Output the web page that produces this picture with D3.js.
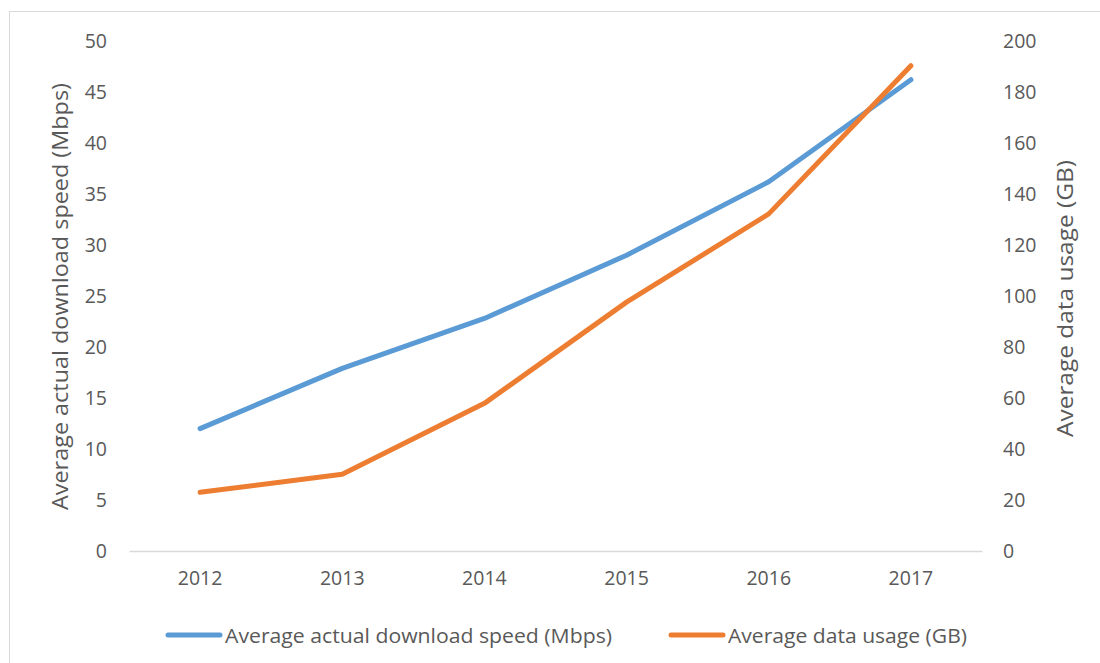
<!DOCTYPE html>
<html>
<head>
<meta charset="utf-8">
<script src="https://cdn.jsdelivr.net/npm/d3@7"></script>
<style>
  html, body { margin: 0; padding: 0; background: #fff; }
  svg { display: block; font-family: "Open Sans", "Noto Sans", sans-serif; }
</style>
</head>
<body>
<svg id="chart" width="1100" height="663"></svg>
<script>
// data
const years = ['2012', '2013', '2014', '2015', '2016', '2017'];
const speedMbps = [12.0, 17.9, 22.8, 29.0, 36.2, 46.2];
const usageGB = [23.0, 30.1, 57.9, 97.6, 132.2, 190.3];
const leftTicks = [0, 5, 10, 15, 20, 25, 30, 35, 40, 45, 50];
const rightTicks = [0, 20, 40, 60, 80, 100, 120, 140, 160, 180, 200];

const BLUE = '#5b9bd5';
const ORANGE = '#ed7d31';
const TEXT = '#595959';
const FONT = '"Open Sans", "Noto Sans", sans-serif';

const svg = d3.select('#chart');

// outer chart border (runs off right/bottom edge)
svg.append('rect')
  .attr('x', 9.5).attr('y', 11.5)
  .attr('width', 1200).attr('height', 800)
  .attr('fill', 'none')
  .attr('stroke', '#d9d9d9')
  .attr('stroke-width', 1);

const x = d3.scaleBand().domain(years).range([129, 982]);
const yL = d3.scaleLinear().domain([0, 50]).range([551, 41]);
const yR = d3.scaleLinear().domain([0, 200]).range([551, 41]);

function styleTicks(g) {
  g.selectAll('text')
    .attr('fill', TEXT)
    .attr('font-size', 19.5)
    .attr('font-family', FONT);
}

// left axis
const gL = svg.append('g').attr('transform', 'translate(129,0)')
  .call(d3.axisLeft(yL).tickValues(leftTicks).tickSize(0).tickPadding(22));
gL.select('.domain').remove();
styleTicks(gL);

// right axis
const gR = svg.append('g').attr('transform', 'translate(982,0)')
  .call(d3.axisRight(yR).tickValues(rightTicks).tickSize(0).tickPadding(21));
gR.select('.domain').remove();
styleTicks(gR);

// bottom axis
const gX = svg.append('g').attr('transform', 'translate(0,551)')
  .call(d3.axisBottom(x).tickSize(0).tickPadding(20));
gX.select('.domain').attr('stroke', '#d9d9d9').attr('stroke-width', 1.3);
styleTicks(gX);

// axis titles (baseline on the right-hand side after rotation)
svg.append('text')
  .attr('transform', 'translate(68,296.5) rotate(-90)')
  .attr('text-anchor', 'middle')
  .attr('fill', TEXT).attr('font-size', 22.5)
  .attr('textLength', 427).attr('lengthAdjust', 'spacingAndGlyphs')
  .text('Average actual download speed (Mbps)');

svg.append('text')
  .attr('transform', 'translate(1073,298.5) rotate(-90)')
  .attr('text-anchor', 'middle')
  .attr('fill', TEXT).attr('font-size', 22.5)
  .attr('textLength', 277).attr('lengthAdjust', 'spacingAndGlyphs')
  .text('Average data usage (GB)');

// lines
const cx = d => x(d) + x.bandwidth() / 2;
const lineL = d3.line().x((d, i) => cx(years[i])).y(d => yL(d));
const lineR = d3.line().x((d, i) => cx(years[i])).y(d => yR(d));

svg.append('path').datum(speedMbps)
  .attr('d', lineL)
  .attr('fill', 'none').attr('stroke', BLUE)
  .attr('stroke-width', 5).attr('stroke-linecap', 'round').attr('stroke-linejoin', 'round');

svg.append('path').datum(usageGB)
  .attr('d', lineR)
  .attr('fill', 'none').attr('stroke', ORANGE)
  .attr('stroke-width', 5).attr('stroke-linecap', 'round').attr('stroke-linejoin', 'round');

// legend
const legend = [
  { label: 'Average actual download speed (Mbps)', color: BLUE, x: 168, len: 387 },
  { label: 'Average data usage (GB)', color: ORANGE, x: 671, len: 239 },
];
legend.forEach(l => {
  svg.append('line')
    .attr('x1', l.x).attr('x2', l.x + 52)
    .attr('y1', 635).attr('y2', 635)
    .attr('stroke', l.color).attr('stroke-width', 5).attr('stroke-linecap', 'round');
  svg.append('text')
    .attr('x', l.x + 57).attr('y', 635)
    .attr('dominant-baseline', 'central')
    .attr('fill', TEXT).attr('font-size', 20.5)
    .attr('textLength', l.len).attr('lengthAdjust', 'spacingAndGlyphs')
    .text(l.label);
});
</script>
</body>
</html>
